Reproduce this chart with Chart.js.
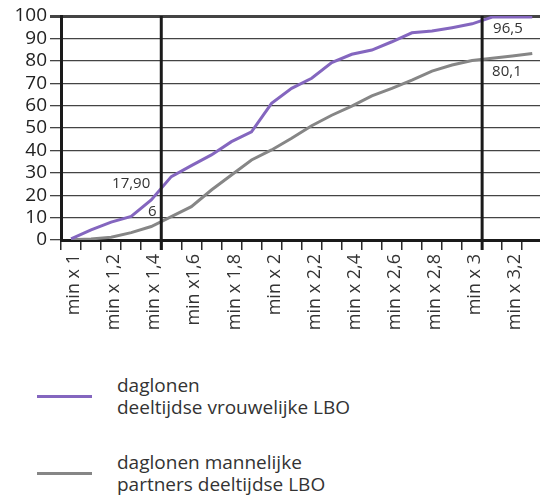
<!DOCTYPE html>
<html>
<head>
<meta charset="utf-8">
<script src="https://cdn.jsdelivr.net/npm/chart.js@4.4.4/dist/chart.umd.min.js"></script>
<style>
  html, body { margin: 0; padding: 0; background: #fff; overflow: hidden; }
  #wrap { position: relative; width: 540px; height: 497px; overflow: hidden; }
  #chart { position: absolute; left: 0; top: 0; }
  #legend { position: absolute; left: 0; top: 374px; font-family: 'Open Sans', sans-serif;
            font-size: 19px; line-height: 22px; color: #333; }
  .item { display: flex; align-items: center; margin-bottom: 33px; }
  .swatch { width: 55px; height: 3px; margin-left: 37px; margin-right: 25px; }
</style>
</head>
<body>
<div id="wrap">
  <canvas id="chart" width="558" height="340"></canvas>
  <div id="legend"></div>
</div>
<script>
// ── Data ───────────────────────────────────────────────────────────────────
const categories = [
  'min x 1', 'min x 1,1', 'min x 1,2', 'min x 1,3', 'min x 1,4', 'min x 1,5',
  'min x1,6', 'min x 1,7', 'min x 1,8', 'min x 1,9', 'min x 2', 'min x 2,1',
  'min x 2,2', 'min x 2,3', 'min x 2,4', 'min x 2,5', 'min x 2,6', 'min x 2,7',
  'min x 2,8', 'min x 2,9', 'min x 3', 'min x 3,1', 'min x 3,2', 'min x 3,3',
];

const womenLabel = ['daglonen', 'deeltijdse vrouwelijke LBO'];
const womenValues = [
  0.5, 4.5, 8, 10.5, 17.9, 28.3, 33.2, 38, 43.9, 48.3, 61, 67.7,
  72.2, 79.2, 82.9, 84.8, 88.5, 92.5, 93.3, 94.8, 96.5, 99.5, 99.5, 99.5,
];

const partnerLabel = ['daglonen mannelijke', 'partners deeltijdse LBO'];
const partnerValues = [
  0.1, 0.5, 1.2, 3.3, 6, 10.4, 14.9, 22.3, 29, 35.7, 40.2, 45.4,
  51, 55.7, 59.8, 64.3, 67.7, 71.4, 75.4, 78.1, 80.1, 81.1, 82.1, 83.3,
];

// vertical reference lines sit right after these categories
const markerAfter = ['min x 1,4', 'min x 3'];

// value callouts: [series index, category, text]
const callouts = [
  [0, 'min x 1,4', '17,90'],
  [1, 'min x 1,4', '6'],
  [0, 'min x 3', '96,5'],
  [1, 'min x 3', '80,1'],
];

// ── Styling ────────────────────────────────────────────────────────────────
const FONT   = "'Open Sans', sans-serif";
const INK    = '#2a2a2a';
const PURPLE = '#8466bf';
const GRAY   = '#868686';

// placement of each callout relative to its point
const calloutPlace = [
  { align: 'right',  dx: -1, dy: -16 },
  { align: 'center', dx: 1,  dy: -15 },
  { align: 'left',   dx: 21, dy: 5 },
  { align: 'left',   dx: 20, dy: 11 },
];

const markers = {
  id: 'markers',
  afterDatasetsDraw(chart) {
    const { ctx, chartArea } = chart;
    const x = chart.scales.x;
    ctx.save();
    ctx.strokeStyle = '#1a1a1a';
    ctx.lineWidth = 3;
    for (const cat of markerAfter) {
      const i = categories.indexOf(cat);
      const px = (x.getPixelForValue(i) + x.getPixelForValue(i + 1)) / 2;
      ctx.beginPath();
      ctx.moveTo(px, chartArea.top);
      ctx.lineTo(px, chartArea.bottom + 10);
      ctx.stroke();
    }
    ctx.font = `15px ${FONT}`;
    ctx.fillStyle = '#333';
    ctx.textBaseline = 'middle';
    callouts.forEach(([ds, cat, text], k) => {
      const pt = chart.getDatasetMeta(ds).data[categories.indexOf(cat)];
      const p = calloutPlace[k];
      ctx.textAlign = p.align;
      ctx.fillText(text, pt.x + p.dx, pt.y + p.dy);
    });
    ctx.restore();
  },
};

const series = [
  { label: womenLabel,   data: womenValues,   color: PURPLE },
  { label: partnerLabel, data: partnerValues, color: GRAY },
];

new Chart(document.getElementById('chart'), {
  type: 'line',
  data: {
    labels: categories,
    datasets: series.map(s => ({
      label: s.label.join(' '),
      data: s.data,
      borderColor: s.color,
      borderWidth: 3,
      pointRadius: 0,
      tension: 0,
      fill: false,
    })),
  },
  options: {
    responsive: false,
    animation: false,
    layout: { padding: { top: 16, right: 7, left: 0, bottom: 0 } },
    plugins: { legend: { display: false }, tooltip: { enabled: false } },
    scales: {
      x: {
        offset: true,
        afterFit: s => { s.height = 100; },
        grid: { offset: true, drawOnChartArea: false, drawTicks: true, tickLength: 10,
                color: INK, lineWidth: 1.5 },
        border: { display: true, color: '#1a1a1a', width: 3 },
        ticks: {
          autoSkip: false, minRotation: 90, maxRotation: 90, padding: 4, labelOffset: 3,
          color: '#333', font: { family: FONT, size: 18 },
          callback: (v, i) => (i % 2 === 0 ? categories[i] : ''),
        },
      },
      y: {
        min: 0, max: 100,
        afterFit: s => { s.width = 61; },
        grid: {
          tickLength: 11,
          color: '#444',
          tickColor: '#444',
          lineWidth: c => (c.tick && c.tick.value === 100 ? 3 : 1.3),
        },
        border: { display: true, color: '#1a1a1a', width: 3 },
        ticks: { stepSize: 10, autoSkip: false, padding: 3, color: '#222',
                 font: { family: FONT, size: 19 } },
      },
    },
  },
  plugins: [markers],
});

// ── Legend (multi-line labels, below the chart) ──────────────────────────────
const legend = document.getElementById('legend');
for (const s of series) {
  const item = document.createElement('div');
  item.className = 'item';
  const sw = document.createElement('div');
  sw.className = 'swatch';
  sw.style.background = s.color;
  const txt = document.createElement('div');
  txt.innerHTML = s.label.join('<br>');
  item.append(sw, txt);
  legend.append(item);
}
</script>
</body>
</html>
